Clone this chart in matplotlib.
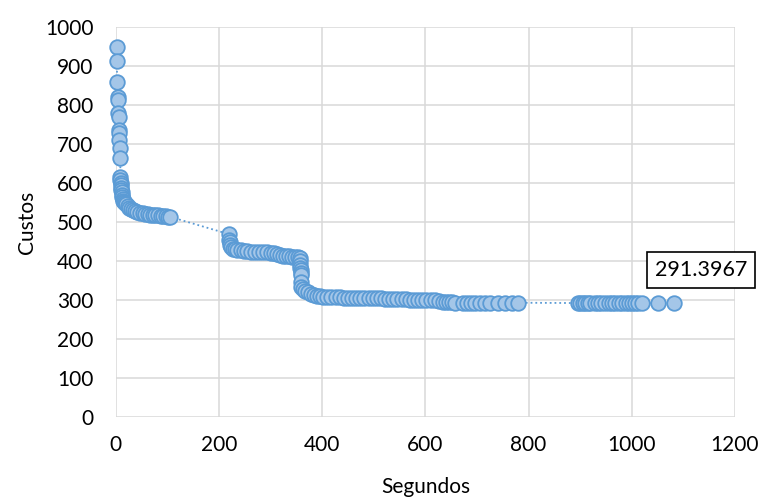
import numpy as np
import matplotlib
matplotlib.use("Agg")
from matplotlib import pyplot as plt

plt.rcParams['font.family'] = ['Lato', 'DejaVu Sans']

# tempo (s) e custo de cada solucao encontrada
segundos = [
    2, 2, 3, 4, 5, 5, 6, 6, 7, 7, 8, 9,
    9, 9, 10, 10, 11, 11, 12, 12, 13, 14, 15, 16, 18, 20, 23, 26, 30, 34, 38, 42,
    47, 52, 57, 62, 67, 72, 77, 82, 87, 92, 97, 102, 106,
    219, 220, 221, 222, 224, 227, 231, 236, 242, 248, 255, 262, 270, 278, 286, 294,
    300, 306, 312, 318, 324, 330, 336, 342, 348, 354, 357, 357, 358, 358, 359, 359,
    359, 359, 359, 362, 367, 372, 378, 384, 390, 396,
    402, 410, 418, 426, 434, 442, 450, 458, 466, 474, 482, 490, 498, 506, 514, 522,
    530, 538, 546, 554, 562, 570, 578, 586, 594, 602, 610, 618, 626, 634, 640, 646,
    652, 658, 672, 680, 688, 696, 705, 715, 725, 740, 755, 768, 780,
    895, 900, 905, 910, 915, 920, 928, 935, 940, 948, 955, 962, 968, 975, 982, 988,
    994, 1000, 1006, 1012, 1020, 1050, 1082,
]
custos = [
    949, 914, 860, 821, 813, 779, 769, 736, 728, 710, 690, 664,
    615, 608, 600, 594, 588, 582, 576, 570, 565, 560, 555, 551, 548, 545, 541, 537, 533, 530, 527, 525,
    523, 522, 521, 520, 519, 518, 517, 517, 516, 515, 515, 514, 513,
    469, 455, 448, 441, 436, 432, 430, 428, 427, 426, 425, 424, 424, 423, 423, 422,
    421, 420, 418, 416, 414, 413, 412, 411, 410, 409, 408, 400, 390, 383, 377, 370,
    364, 345, 333, 328, 324, 320, 316, 313, 311, 309,
    308, 308, 307, 307, 307, 306, 306, 306, 306, 305, 305, 305, 304, 304, 304, 303,
    303, 303, 302, 302, 302, 301, 301, 301, 300, 300, 300, 299, 298, 296, 295, 294,
    294, 293, 293, 293, 293, 293, 293, 293, 293, 293, 293, 293, 293,
    292, 292, 292, 292, 292, 292, 292, 292, 292, 292, 292, 292, 292, 292, 292, 292,
    292, 292, 292, 292, 292, 292, 291.3967,
]
rotulo_final = "291.3967"

xticks = [0, 200, 400, 600, 800, 1000, 1200]
yticks = [0, 100, 200, 300, 400, 500, 600, 700, 800, 900, 1000]

fig = plt.figure(figsize=(7.6, 4.98), dpi=100)
fig.subplots_adjust(left=115.7/760, right=735/760, top=1-27/498, bottom=1-417/498)
ax = fig.add_subplot(111)

ax.plot(segundos, custos, linestyle=':', linewidth=1.3, color='#5B9BD5',
        marker='o', markersize=10.5, markerfacecolor='#A4C6E8',
        markeredgecolor='#5B9BD5', markeredgewidth=1.3, zorder=3, clip_on=False)

# rotulo do ultimo ponto
ax.annotate(rotulo_final, xy=(segundos[-1], custos[-1]), xytext=(1134, 377),
            textcoords='data', ha='center', va='center', fontsize=15.5,
            annotation_clip=False,
            bbox=dict(boxstyle='square,pad=0.38', fc='white', ec='black', lw=1.2),
            zorder=5)

ax.set_xlim(0, 1200)
ax.set_ylim(0, 1000)
ax.set_xticks(xticks)
ax.set_yticks(yticks)
ax.tick_params(axis='both', length=0, labelsize=15, colors='black')
ax.tick_params(axis='y', pad=16)
ax.tick_params(axis='x', pad=13)
ax.grid(True, color='#D9D9D9', linewidth=1.1)
ax.set_axisbelow(True)
for s in ax.spines.values():
    s.set_visible(False)

ax.set_xlabel('Segundos', fontsize=15, labelpad=16)
ax.set_ylabel('Custos', fontsize=15, labelpad=6)

fig.savefig('out.png', dpi=100)
